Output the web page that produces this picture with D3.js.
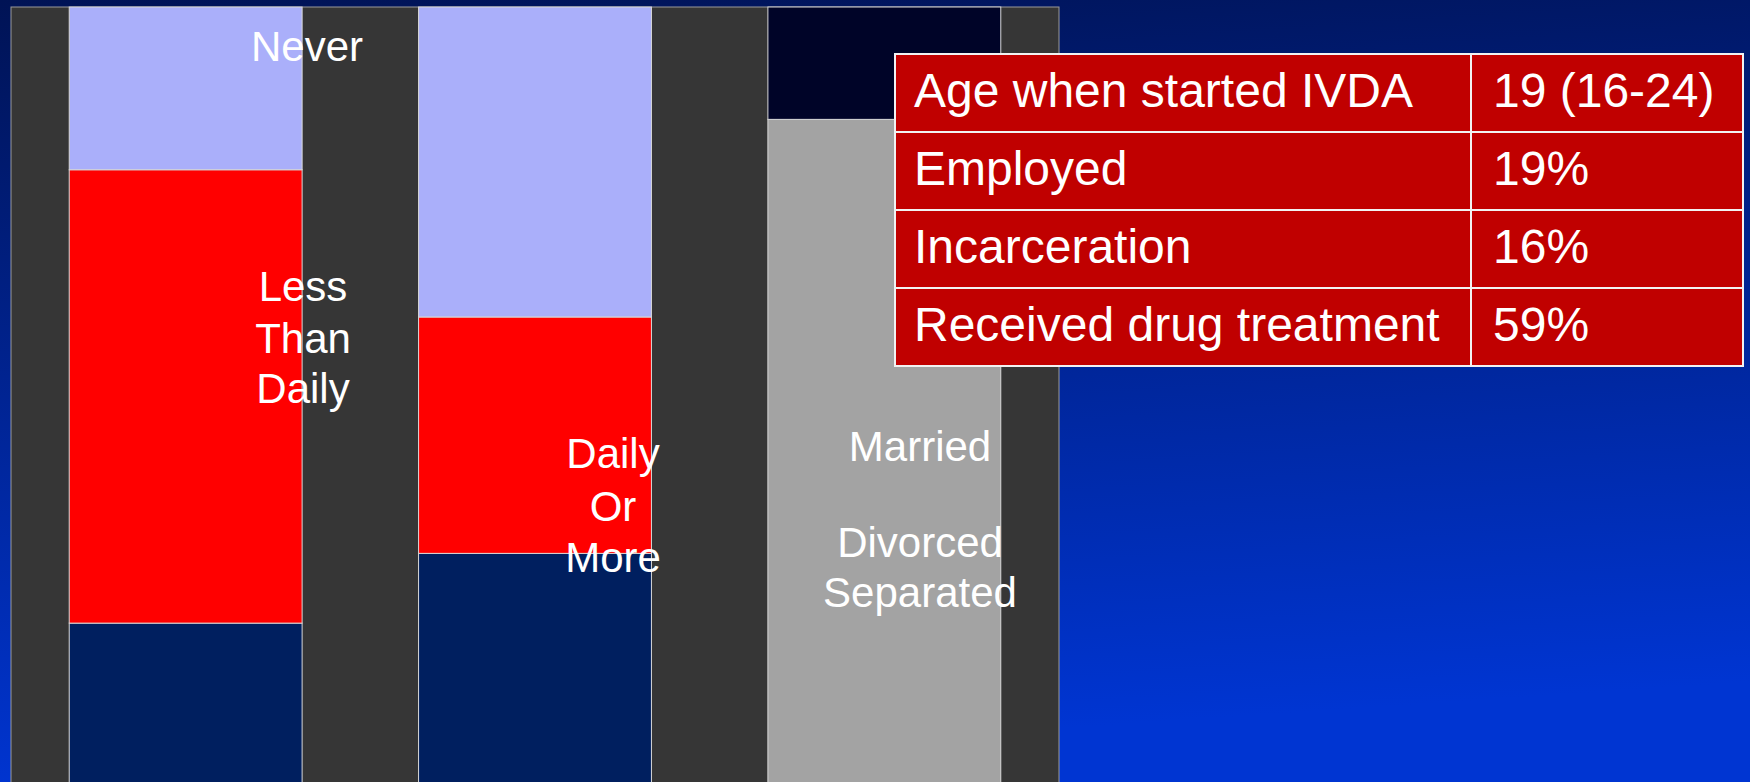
<!DOCTYPE html>
<html>
<head>
<meta charset="utf-8">
<script src="https://cdn.jsdelivr.net/npm/d3@7"></script>
<style>
  html, body { margin: 0; padding: 0; overflow: hidden; background: #001a6a; }
  svg { display: block; font-family: "Liberation Sans", Arial, sans-serif; }
</style>
</head>
<body>
<div id="chart"></div>
<script>
// bars (percent of group), bottom -> top
const categories = ["Injection frequency A", "Injection frequency B", "Marital status"];
const segBottom = [20.5, 29.5, 85.5];
const segMiddle = [58.5, 30.5, 0];
const segTop    = [21, 40, 14.5];

// table beside the chart
const tableLabels = ["Age when started IVDA", "Employed", "Incarceration", "Received drug treatment"];
const tableValues = ["19 (16-24)", "19%", "16%", "59%"];

const W = 1750, H = 782;
const plot = {left: 11, top: 7, right: 1059, bottom: 782};

const svg = d3.select("#chart").append("svg")
    .attr("width", W)
    .attr("height", H);

// background gradient
const defs = svg.append("defs");
const grad = defs.append("linearGradient")
    .attr("id", "bg")
    .attr("x1", 0).attr("y1", 0).attr("x2", 0.15).attr("y2", 1);
grad.append("stop").attr("offset", "0%").attr("stop-color", "#001355");
grad.append("stop").attr("offset", "100%").attr("stop-color", "#0035d2");
svg.append("rect").attr("width", W).attr("height", H).attr("fill", "url(#bg)");

// plot area
svg.append("rect")
    .attr("x", plot.left).attr("y", plot.top)
    .attr("width", plot.right - plot.left)
    .attr("height", plot.bottom - plot.top + 5)
    .attr("fill", "#363636")
    .attr("stroke", "#9a9a9a")
    .attr("stroke-width", 1);

const x = d3.scaleBand()
    .domain(categories)
    .range([plot.left, plot.right])
    .paddingInner(1/3)
    .paddingOuter(1/6);

const y = d3.scaleLinear()
    .domain([0, 100])
    .range([plot.bottom, plot.top]);

const rows = categories.map((c, i) => ({cat: c, bottom: segBottom[i], middle: segMiddle[i], top: segTop[i]}));
const keys = ["bottom", "middle", "top"];
const stacked = d3.stack().keys(keys)(rows);

const colorFor = {
  "Injection frequency A": {bottom: "#001f5f", middle: "#ff0000", top: "#aaaffa"},
  "Injection frequency B": {bottom: "#001f5f", middle: "#ff0000", top: "#aaaffa"},
  "Marital status":        {bottom: "#a3a3a3", middle: "#a3a3a3", top: "#000428"}
};

const layer = svg.append("g");
stacked.forEach(s => {
  layer.selectAll(null)
    .data(s.filter(d => d[1] - d[0] > 0))
    .enter().append("rect")
      .attr("x", d => x(d.data.cat))
      .attr("width", x.bandwidth())
      .attr("y", d => y(d[1]))
      .attr("height", d => y(d[0]) - y(d[1]) + (d[0] === 0 ? 5 : 0))
      .attr("fill", d => colorFor[d.data.cat][s.key])
      .attr("stroke", "#d8d8d8")
      .attr("stroke-width", 1);
});

// floating series labels (as placed on the slide)
const labels = [
  {lines: ["Never"], cx: 307, base: [61]},
  {lines: ["Less", "Than", "Daily"], cx: 303, base: [301, 353, 403]},
  {lines: ["Daily", "Or", "More"], cx: 613, base: [468, 521, 572]},
  {lines: ["Married"], cx: 920, base: [461]},
  {lines: ["Divorced", "Separated"], cx: 920, base: [557, 607]}
];
const lab = svg.append("g")
    .attr("fill", "#ffffff")
    .attr("font-size", 42)
    .attr("text-anchor", "middle");
labels.forEach(l => {
  l.lines.forEach((t, i) => {
    lab.append("text").attr("x", l.cx).attr("y", l.base[i]).text(t);
  });
});

// table
const tbl = {left: 895, mid: 1471, right: 1743, top: 54, rowH: 78};
const tg = svg.append("g");
tableLabels.forEach((t, i) => {
  const ry = tbl.top + i * tbl.rowH;
  tg.append("rect")
    .attr("x", tbl.left).attr("y", ry)
    .attr("width", tbl.mid - tbl.left).attr("height", tbl.rowH)
    .attr("fill", "#c00000").attr("stroke", "#f2f2f2").attr("stroke-width", 2);
  tg.append("rect")
    .attr("x", tbl.mid).attr("y", ry)
    .attr("width", tbl.right - tbl.mid).attr("height", tbl.rowH)
    .attr("fill", "#c00000").attr("stroke", "#f2f2f2").attr("stroke-width", 2);
  tg.append("text")
    .attr("x", tbl.left + 19).attr("y", ry + 53)
    .attr("fill", "#ffffff").attr("font-size", 48)
    .text(t);
  tg.append("text")
    .attr("x", tbl.mid + 22).attr("y", ry + 53)
    .attr("fill", "#ffffff").attr("font-size", 48)
    .text(tableValues[i]);
});
</script>
</body>
</html>
